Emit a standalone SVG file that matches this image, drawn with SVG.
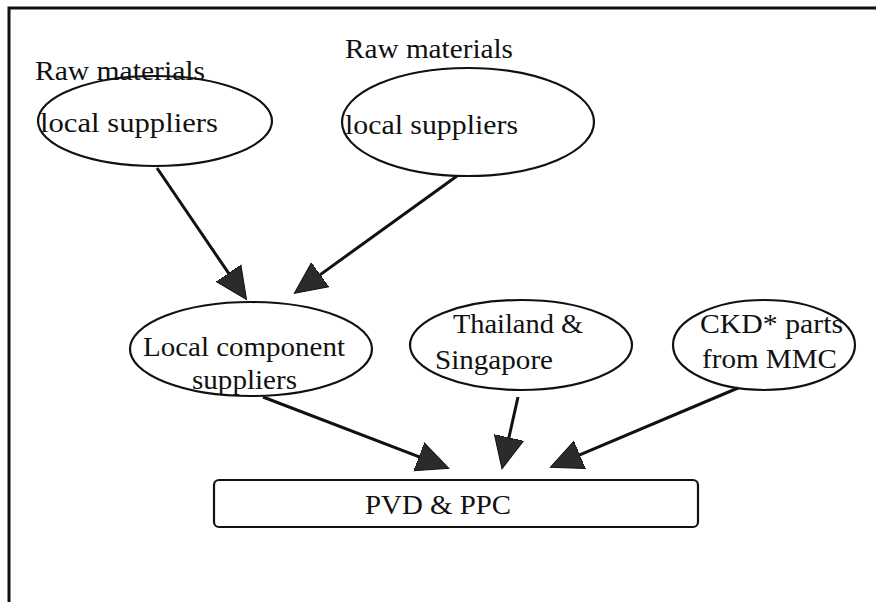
<svg xmlns="http://www.w3.org/2000/svg" width="876" height="602" viewBox="0 0 876 602">
  <style>
    .frame { fill: none; stroke: #111; stroke-width: 3; }
    .node { fill: #fff; stroke: #111; stroke-width: 2.2; }
    .label { font-family: "Liberation Serif", "Times New Roman", serif; font-size: 28px; fill: #111; }
    .edge { fill: none; stroke: #111; stroke-width: 3; }
  </style>
  <defs>
    <marker id="head" markerUnits="userSpaceOnUse" markerWidth="34" markerHeight="32" viewBox="0 -15 32 30" refX="20" refY="0" orient="auto">
      <path d="M0,-14 L30,0 L0,14 z" fill="#2b2b2b" stroke="#111" stroke-width="1"/>
    </marker>
  </defs>
  <rect width="876" height="602" fill="#fff"/>

  <!-- page frame: left and top rules only -->
  <path class="frame" d="M9,602 L9,8 L876,8"/>

  <g id="raw-local-1">
    <ellipse class="node" cx="155" cy="121" rx="117" ry="45"/>
    <text class="label" x="35" y="80" textLength="170" lengthAdjust="spacingAndGlyphs">Raw materials</text>
    <text class="label" x="40" y="132" textLength="178" lengthAdjust="spacingAndGlyphs">local suppliers</text>
  </g>

  <g id="raw-local-2">
    <ellipse class="node" cx="468" cy="122" rx="126" ry="54"/>
    <text class="label" x="345" y="58" textLength="168" lengthAdjust="spacingAndGlyphs">Raw materials</text>
    <text class="label" x="345" y="134" textLength="173" lengthAdjust="spacingAndGlyphs">local suppliers</text>
  </g>

  <g id="local-component">
    <ellipse class="node" cx="251" cy="349" rx="121" ry="47"/>
    <text class="label" x="143" y="356" textLength="202" lengthAdjust="spacingAndGlyphs">Local component</text>
    <text class="label" x="192" y="389" textLength="105" lengthAdjust="spacingAndGlyphs">suppliers</text>
  </g>

  <g id="thailand-singapore">
    <ellipse class="node" cx="521" cy="345" rx="111" ry="45"/>
    <text class="label" x="453" y="333" textLength="130" lengthAdjust="spacingAndGlyphs">Thailand &amp;</text>
    <text class="label" x="435" y="369" textLength="118" lengthAdjust="spacingAndGlyphs">Singapore</text>
  </g>

  <g id="ckd-parts">
    <ellipse class="node" cx="764" cy="345" rx="91" ry="45"/>
    <text class="label" x="700" y="333" textLength="143" lengthAdjust="spacingAndGlyphs">CKD* parts</text>
    <text class="label" x="702" y="368" textLength="135" lengthAdjust="spacingAndGlyphs">from MMC</text>
  </g>

  <g id="pvd-ppc">
    <rect class="node" x="214" y="480" width="484" height="47" rx="5"/>
    <text class="label" x="365" y="514" textLength="146" lengthAdjust="spacingAndGlyphs">PVD &amp; PPC</text>
  </g>

  <g id="connectors">
    <path class="edge" marker-end="url(#head)" d="M157,168 L240.5,290.7"/>
    <path class="edge" marker-end="url(#head)" d="M457,176 L303,287.1"/>
    <path class="edge" marker-end="url(#head)" d="M263,397 L438.8,464.4"/>
    <path class="edge" marker-end="url(#head)" d="M518,397 L504.3,458.3"/>
    <path class="edge" marker-end="url(#head)" d="M738,388 L560.2,463.1"/>
  </g>
</svg>
